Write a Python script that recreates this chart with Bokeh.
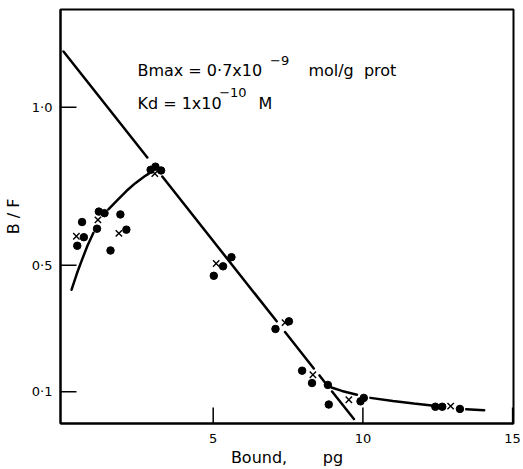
import math
from bokeh.plotting import figure
from bokeh.models import FixedTicker, CustomJSTickFormatter, Label, Range1d
from bokeh.embed import file_html
from bokeh.resources import INLINE

nan = float("nan")

# Experimental points (filled dots)
dots_x = [0.46, 0.62, 0.68, 1.12, 1.18, 1.37, 1.57, 1.90, 2.10, 2.91, 3.07, 3.26,
          5.02, 5.33, 5.61, 7.08, 7.53, 7.97, 8.30, 8.83, 8.86, 9.92, 10.03,
          12.42, 12.65, 13.24]
dots_y = [0.562, 0.637, 0.589, 0.616, 0.670, 0.665, 0.547, 0.661, 0.613, 0.802, 0.812, 0.800,
          0.467, 0.497, 0.526, 0.299, 0.323, 0.167, 0.128, 0.122, 0.060, 0.070, 0.081,
          0.053, 0.053, 0.046]

# Mean points (crosses)
cross_x = [0.43, 1.15, 1.85, 3.05, 5.10, 7.40, 8.33, 9.53, 12.93]
cross_y = [0.592, 0.644, 0.601, 0.790, 0.506, 0.319, 0.154, 0.075, 0.055]

# Scatchard straight line (drawn with breaks at points)
line_x = [0.0, 2.80, nan, 3.30, 7.12, nan, 7.40, 8.36, nan, 8.55, 8.72, nan, 8.97, 9.70]
line_y = [1.176, 0.841, nan, 0.781, 0.323, nan, 0.289, 0.174, nan, 0.152, 0.131, nan, 0.101, 0.014]

# Rising curve at low bound
rise_x = [0.27, 0.45, 0.62, 0.80, 1.00, nan, 1.50, 1.80, 2.10, 2.40, 2.70, 2.85]
rise_y = [0.423, 0.475, 0.518, 0.562, 0.603, nan, 0.677, 0.706, 0.735, 0.760, 0.781, 0.790]

# Tail curve at high bound
tail_x = [8.95, 9.30, 9.80, nan, 10.25, 11.0, 11.7, 12.30, nan, 13.45, 14.05]
tail_y = [0.114, 0.103, 0.091, nan, 0.081, 0.071, 0.063, 0.057, nan, 0.045, 0.042]

x_ticks = [5, 10, 15]
y_ticks = [0.1, 0.5, 1.0]

X0, X1 = -0.1, 15.03
Y0, Y1 = 0.0, 1.309

FONT = "DejaVu Sans"

p = figure(width=523, height=469, output_backend="svg", toolbar_location=None,
           x_range=Range1d(X0, X1), y_range=Range1d(Y0, Y1),
           min_border_left=60, min_border_right=10, min_border_top=9, min_border_bottom=45)
p.background_fill_color = "white"
p.border_fill_color = "white"
p.outline_line_color = "black"
p.outline_line_width = 2
p.xgrid.visible = False
p.ygrid.visible = False

for ax in (p.xaxis[0], p.yaxis[0]):
    ax.axis_line_color = "black"
    ax.axis_line_width = 2
    ax.major_tick_in = 0
    ax.major_tick_out = 0
    ax.major_tick_line_color = None
    ax.minor_tick_line_color = None
    ax.major_label_text_font = FONT
    ax.major_label_text_font_size = "13px"
    ax.major_label_text_color = "black"
    ax.axis_label_text_font = FONT
    ax.axis_label_text_font_style = "normal"
    ax.axis_label_text_font_size = "16px"
    ax.axis_label_text_color = "black"

p.xaxis.ticker = FixedTicker(ticks=x_ticks)
p.yaxis.ticker = FixedTicker(ticks=y_ticks)
p.xaxis.formatter = CustomJSTickFormatter(code="return tick.toFixed(0);")
p.yaxis.formatter = CustomJSTickFormatter(code="return tick.toFixed(1).replace('.', '\u00b7');")
p.xaxis.axis_label = "Bound,\u00a0\u00a0\u00a0\u00a0\u00a0\u00a0\u00a0pg"
p.yaxis.axis_label = "B / F"
p.xaxis.major_label_standoff = 10
p.xaxis.axis_label_standoff = 2
p.yaxis.major_label_standoff = 8
p.yaxis.axis_label_standoff = 6

# inward tick marks (half of each dash is clipped outside the frame)
p.scatter([X0] * len(y_ticks), y_ticks, marker="dash", size=32,
          line_color="black", line_width=1.5)
p.scatter(x_ticks, [Y0] * len(x_ticks), marker="dash", size=32, angle=math.pi / 2,
          line_color="black", line_width=1.5)

p.line(line_x, line_y, line_color="black", line_width=2.5, line_cap="round")
p.line(rise_x, rise_y, line_color="black", line_width=2.5, line_cap="round")
p.line(tail_x, tail_y, line_color="black", line_width=2.5, line_cap="round")

p.scatter(dots_x, dots_y, marker="circle", size=7.5, fill_color="black", line_color="black")
p.scatter(cross_x, cross_y, marker="x", size=9, line_color="black", line_width=1.4)

def lab(x, y, t, size):
    p.add_layout(Label(x=x, y=y, text=t, text_font=FONT, text_font_size=size,
                       text_color="black", text_baseline="alphabetic", text_align="left"))

lab(2.47, 1.117, "Bmax = 0\u00b77x10", "16px")
lab(6.90, 1.149, "\u22129", "13px")
lab(8.18, 1.117, "mol/g\u00a0\u00a0prot", "16px")
lab(2.47, 1.011, "Kd = 1x10", "16px")
lab(5.20, 1.045, "\u221210", "13px")
lab(6.51, 1.011, "M", "16px")

open("out.html", "w").write(file_html(p, INLINE))
